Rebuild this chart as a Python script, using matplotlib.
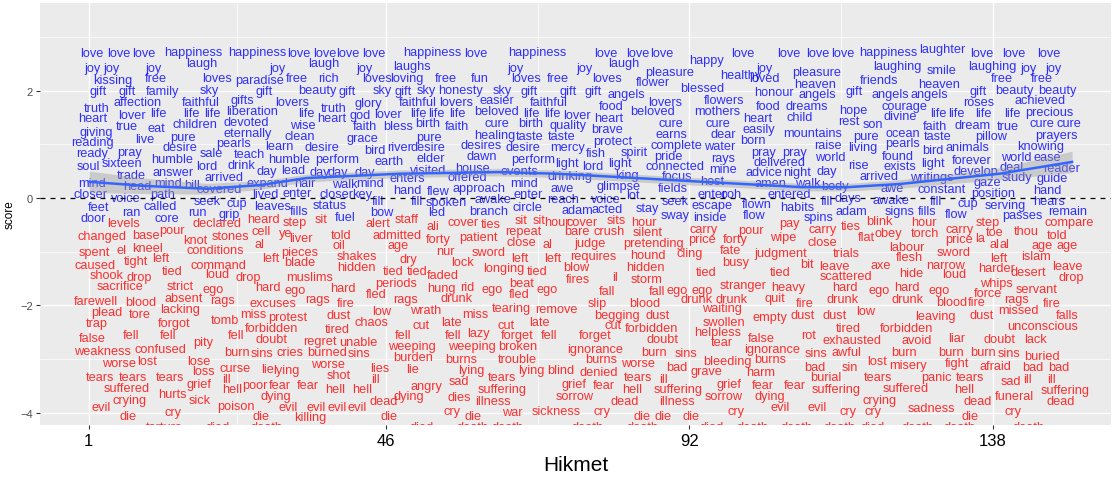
import matplotlib
matplotlib.use("Agg")
import matplotlib.pyplot as plt

plt.rcParams['font.family'] = ['Liberation Sans', 'DejaVu Sans']

# positive words (blue): word, poem index, score
pos_words = [
    "love", "love", "love", "happiness", "happiness", "love", "love", "love", "love", "happiness", "love", "happiness", "love", "love", "love", "happy", "love", "love", "love", "love", "happiness", "laughter", "love", "love", "love",
    "joy", "joy", "joy", "laugh", "joy", "laugh", "joy", "laughs", "joy", "joy", "laugh", "joy", "laughing", "smile", "laughing", "joy", "joy",
    "kissing", "free", "loves", "paradise", "free", "rich", "loves", "loving", "free", "fun", "loves", "free", "loves", "pleasure", "flower", "healthy", "loved", "pleasure", "heaven", "friends", "heaven", "free", "free",
    "gift", "gift", "family", "sky", "gift", "beauty", "gift", "sky", "gift", "sky", "honesty", "sky", "gift", "gift", "gift", "angels", "blessed", "honour", "angels", "gift", "angels", "angels", "gift", "beauty", "beauty",
    "affection", "faithful", "gifts", "lovers", "glory", "faithful", "lovers", "easier", "faithful", "lovers", "flowers", "roses", "achieved",
    "truth", "lover", "life", "life", "life", "liberation", "life", "truth", "heart", "god", "lover", "life", "life", "life", "beloved", "life", "life", "lover", "food", "beloved", "mothers", "food", "dreams", "heart", "heart", "heart", "child", "courage", "hope", "life", "life", "life", "life", "precious", "divine",
    "children", "devoted", "true", "wise", "faith", "bless", "birth", "faith", "cure", "birth", "quality", "cure", "cure", "rest", "son", "faith", "dream", "true", "cure", "cure",
    "eat", "giving", "live", "pure", "eternally", "clean", "brave", "easily", "earns", "dear", "mountains", "grace", "pure", "healing", "taste", "taste", "pure", "ocean", "taste", "pillow", "prayers",
    "reading", "desire", "pearls", "learn", "desire", "born", "protect", "complete", "water", "raise", "bird", "river", "desire", "desires", "desire", "mercy", "living", "pearls", "bird", "animals", "knowing",
    "ready", "pray", "sale", "teach", "humble", "humble", "perform", "earth", "elder", "dawn", "perform", "fish", "spirit", "pride", "rays", "pray", "pray", "world", "found", "world", "ease",
    "soul", "sixteen", "lord", "drink", "day", "lead", "answer", "light", "lord", "light", "connected", "mine", "delivered", "advice", "night", "day", "forever", "rise", "exists", "light", "develop", "deal", "reader", "day", "day", "day", "visited", "house", "events",
    "trade", "arrived", "drinking", "king", "focus", "host", "arrived", "writings", "study", "guide", "enters", "offered",
    "mind", "head", "mind", "bill", "covered", "expand", "hair", "walk", "mind", "hand", "flew", "approach", "mind", "awe", "glimpse", "fields", "amen", "walk", "body", "awe", "constant", "gaze", "position", "hand",
    "closer", "voice", "path", "lived", "enter", "closer", "key", "enter", "enter", "ooh", "entered",
    "seek", "fill", "fill", "spoken", "awake", "reach", "voice", "lot", "seek", "fill", "days", "awake", "fill", "cup", "serving", "hears",
    "feet", "called", "cup", "leaves", "status", "circle", "escape", "flown", "habits", "acted", "stay",
    "ran", "run", "grip", "fills", "bow", "led", "branch", "adam", "adam", "signs", "fills", "remain",
    "sway", "inside", "flow", "spins", "flow", "passes", "door", "core", "fuel",
]
pos_x = [
    1.5, 5.5, 9.3, 16.9, 26.6, 32.8, 36.8, 40.2, 44.2, 53.1, 59.6, 69.0, 79.3, 84.2, 87.9, 94.6, 100.1, 107.1, 111.4, 115.2, 122.1, 130.4, 136.3, 141.2, 146.5,
    1.5, 4.5, 10.8, 18.1, 29.6, 36.6, 42.7, 49.9, 65.7, 76.1, 82.1, 103.4, 123.5, 130.2, 137.9, 143.4, 147.1,
    4.6, 11.2, 20.4, 26.9, 32.5, 37.3, 44.6, 49.2, 55.1, 60.2, 67.2, 72.1, 79.6, 89.0, 86.5, 99.8, 103.4, 111.3, 111.1, 120.8, 129.8, 139.3, 145.5,
    2.4, 6.8, 12.2, 19.2, 27.5, 35.7, 40.1, 45.4, 48.7, 52.2, 57.4, 63.7, 67.8, 73.7, 77.5, 82.5, 93.9, 104.8, 111.4, 116.9, 122.5, 128.4, 135.7, 141.2, 147.8,
    8.4, 18.0, 24.3, 31.8, 43.3, 50.8, 56.6, 62.8, 70.7, 88.4, 97.2, 135.9, 145.2,
    2.2, 7.5, 11.6, 16.6, 19.8, 25.8, 34.0, 38.1, 37.8, 42.1, 46.3, 50.9, 53.7, 56.9, 62.8, 68.0, 71.3, 74.9, 80.2, 86.5, 96.3, 103.9, 109.8, 1.6, 79.8, 102.4, 108.7, 124.6, 116.9, 129.8, 132.5, 136.5, 140.9, 146.5, 124.0,
    17.1, 24.8, 6.8, 33.4, 42.8, 47.8, 52.4, 56.8, 62.8, 68.0, 73.6, 89.2, 96.3, 116.1, 119.8, 129.2, 134.9, 140.2, 145.5, 149.6,
    11.3, 2.2, 9.5, 15.2, 25.1, 33.0, 79.5, 102.5, 89.3, 97.1, 110.7, 42.5, 52.5, 62.5, 67.8, 72.7, 118.7, 124.3, 129.6, 137.7, 147.7,
    1.6, 14.8, 23.0, 29.9, 36.4, 101.6, 80.4, 90.1, 96.6, 113.0, 44.3, 48.1, 52.4, 60.5, 66.8, 73.6, 118.3, 124.3, 128.9, 134.2, 145.2,
    1.5, 7.1, 19.5, 25.4, 13.7, 31.3, 38.7, 46.5, 52.8, 60.5, 68.4, 77.8, 83.6, 88.9, 97.1, 103.3, 108.0, 113.3, 123.6, 141.6, 146.2,
    1.0, 6.0, 18.9, 24.2, 28.0, 31.9, 13.7, 73.4, 77.4, 81.5, 89.8, 97.1, 105.7, 103.3, 108.3, 112.8, 134.8, 117.7, 123.9, 128.9, 135.5, 140.8, 148.4, 36.0, 38.7, 42.8, 52.4, 59.2, 66.3,
    7.4, 21.5, 73.9, 82.5, 90.1, 95.5, 120.7, 128.7, 141.7, 147.0, 49.2, 58.3,
    1.5, 8.3, 13.0, 16.6, 20.8, 28.0, 33.7, 39.8, 43.6, 49.2, 54.0, 60.2, 66.9, 72.8, 81.3, 89.5, 104.3, 109.9, 114.0, 122.7, 130.2, 137.1, 138.0, 146.3,
    1.2, 6.6, 12.2, 27.8, 32.5, 38.6, 42.4, 67.5, 95.5, 98.4, 107.2,
    18.9, 44.8, 50.7, 55.2, 62.2, 72.8, 79.3, 83.4, 89.8, 112.8, 116.1, 122.5, 129.3, 134.2, 139.9, 146.5,
    2.5, 11.8, 23.4, 28.9, 37.5, 67.5, 95.4, 102.2, 108.4, 79.6, 85.7,
    7.5, 17.4, 22.2, 32.8, 45.4, 53.7, 61.6, 75.1, 116.6, 123.9, 128.1, 149.3,
    89.8, 95.1, 101.9, 111.6, 132.5, 142.4, 1.6, 12.8, 39.9,
]
pos_score = [
    2.70, 2.70, 2.70, 2.72, 2.72, 2.70, 2.70, 2.70, 2.70, 2.72, 2.70, 2.72, 2.70, 2.70, 2.70, 2.57, 2.70, 2.70, 2.70, 2.70, 2.72, 2.77, 2.70, 2.70, 2.70,
    2.42, 2.42, 2.42, 2.51, 2.42, 2.51, 2.42, 2.46, 2.42, 2.42, 2.51, 2.42, 2.46, 2.38, 2.46, 2.42, 2.42,
    2.20, 2.23, 2.23, 2.20, 2.23, 2.23, 2.23, 2.23, 2.23, 2.23, 2.23, 2.23, 2.23, 2.35, 2.16, 2.29, 2.23, 2.35, 2.12, 2.20, 2.12, 2.23, 2.23,
    1.99, 1.99, 1.99, 2.01, 1.99, 2.01, 1.99, 2.01, 1.99, 2.01, 2.01, 2.01, 1.99, 1.99, 1.99, 1.94, 2.05, 1.97, 1.94, 1.99, 1.94, 1.94, 1.99, 2.01, 2.01,
    1.79, 1.79, 1.82, 1.79, 1.77, 1.79, 1.79, 1.82, 1.79, 1.79, 1.82, 1.79, 1.82,
    1.68, 1.55, 1.58, 1.58, 1.58, 1.62, 1.58, 1.68, 1.49, 1.55, 1.56, 1.58, 1.58, 1.58, 1.62, 1.58, 1.58, 1.55, 1.71, 1.62, 1.62, 1.71, 1.71, 1.49, 1.49, 1.49, 1.51, 1.71, 1.64, 1.58, 1.58, 1.58, 1.58, 1.60, 1.53,
    1.38, 1.42, 1.34, 1.36, 1.34, 1.34, 1.40, 1.34, 1.40, 1.40, 1.36, 1.40, 1.40, 1.43, 1.38, 1.34, 1.36, 1.34, 1.40, 1.40,
    1.30, 1.23, 1.10, 1.14, 1.21, 1.15, 1.28, 1.28, 1.19, 1.19, 1.21, 1.12, 1.14, 1.17, 1.15, 1.15, 1.15, 1.21, 1.15, 1.15, 1.17,
    1.04, 0.95, 1.02, 0.97, 0.95, 1.08, 1.06, 0.99, 0.97, 0.99, 0.89, 0.95, 0.95, 0.99, 0.95, 0.95, 0.95, 1.02, 0.89, 0.95, 0.97,
    0.84, 0.86, 0.84, 0.82, 0.73, 0.73, 0.73, 0.69, 0.74, 0.78, 0.73, 0.84, 0.86, 0.78, 0.74, 0.86, 0.86, 0.76, 0.78, 0.76, 0.76,
    0.60, 0.65, 0.60, 0.61, 0.50, 0.52, 0.48, 0.65, 0.60, 0.65, 0.60, 0.54, 0.67, 0.48, 0.48, 0.50, 0.71, 0.61, 0.60, 0.65, 0.50, 0.58, 0.56, 0.48, 0.48, 0.48, 0.52, 0.56, 0.50,
    0.43, 0.39, 0.41, 0.43, 0.41, 0.32, 0.41, 0.39, 0.39, 0.37, 0.37, 0.39,
    0.28, 0.22, 0.28, 0.24, 0.17, 0.28, 0.28, 0.26, 0.28, 0.15, 0.13, 0.19, 0.28, 0.19, 0.22, 0.19, 0.28, 0.28, 0.22, 0.19, 0.17, 0.30, 0.09, 0.15,
    0.07, 0.00, 0.07, 0.07, 0.09, 0.07, 0.07, 0.07, 0.07, 0.07, 0.07,
    -0.06, -0.06, -0.06, -0.07, -0.02, -0.02, -0.02, 0.06, -0.06, -0.06, 0.00, -0.04, -0.06, -0.09, -0.13, -0.06,
    -0.17, -0.15, -0.09, -0.15, -0.13, -0.17, -0.13, -0.11, -0.17, -0.20, -0.19,
    -0.26, -0.26, -0.30, -0.24, -0.26, -0.26, -0.24, -0.22, -0.24, -0.24, -0.24, -0.24,
    -0.32, -0.35, -0.32, -0.35, -0.30, -0.32, -0.37, -0.37, -0.35,
]

# negative words (red)
neg_words = [
    "levels", "declared", "heard", "step", "sit", "alert", "staff", "ali", "cover", "ties", "sit", "sit", "hour", "cover", "sits", "hour", "pay", "ties", "blink", "hour", "step", "compare",
    "changed", "base", "pour", "knot", "stones", "cell", "ye", "liver", "told", "admitted", "forty", "patient", "repeat", "bare", "crush", "silent", "carry", "pour", "carry", "wipe", "price", "forty", "flat", "obey", "torch", "carry", "price", "la", "toe", "thou", "told",
    "al", "oil", "age", "close", "al", "judge", "pretending", "close", "al", "al", "age", "age",
    "spent", "el", "kneel", "conditions", "pieces", "nur", "sword", "cling", "fate", "judgment", "trials", "labour", "sword", "requires", "hound", "shakes", "dry", "left", "left", "left", "left", "flesh", "islam", "left",
    "caused", "tight", "command", "blade", "lock", "busy", "bit", "leave", "axe", "narrow", "leave", "harder", "hidden", "longing", "blow", "hidden",
    "shook", "drop", "tied", "loud", "drop", "muslims", "tied", "tied", "tied", "faded", "tied", "tied", "hide", "loud", "desert", "drop", "scattered", "fires", "il", "storm",
    "sacrifice", "strict", "ego", "hard", "ego", "periods", "hard", "hung", "rid", "ego", "beat", "ego", "stranger", "heavy", "hard", "whips", "fall", "fall", "ego", "ego", "ego", "hard", "ego", "servant", "force", "fled", "fled",
    "farewell", "blood", "absent", "rags", "excuses", "rags", "fire", "rags", "drunk", "drunk", "drunk", "quit", "fire", "drunk", "slip", "blood", "drunk", "blood", "fire", "rags", "fire",
    "plead", "tore", "lacking", "miss", "protest", "low", "wrath", "miss", "tearing", "remove", "dust", "waiting", "begging", "dust", "empty", "dust", "dust", "low", "leaving", "dust", "missed", "falls",
    "tomb", "trap", "forgot", "forbidden", "chaos", "cut", "late", "cut", "late", "tired", "cut", "forbidden", "swollen", "tired", "forbidden", "unconscious",
    "false", "fell", "fell", "pity", "fell", "doubt", "regret", "unable", "fell", "fell", "lazy", "forget", "fell", "forget", "doubt", "helpless", "tear", "false", "rot", "exhausted", "avoid", "liar", "doubt", "lack",
    "weakness", "confused", "burn", "sins", "cries", "burned", "sins", "weeping", "weeping", "broken", "burden", "ignorance", "burn", "sins", "ignorance", "sins", "awful", "burn", "burn", "burn", "sins", "buried",
    "worse", "lost", "lose", "loss", "curse", "lie", "lying", "worse", "lies", "lie", "burns", "trouble", "lying", "lying", "blind", "burns", "worse", "bleeding", "burns", "bad", "bad", "sin", "denied", "grave", "harm", "lost", "misery", "fight", "afraid", "bad", "bad",
    "tears", "tears", "tears", "grief", "ill", "poor", "fear", "fear", "suffered", "hurts", "hell", "shot", "ill", "tears", "angry", "sad", "suffering", "grief", "hell", "hell", "fear", "tears", "ill", "hell", "suffering", "grief", "fear", "fear", "burial", "suffering", "tears", "panic", "tears", "sad", "ill", "ill", "suffered", "hell", "suffering",
    "crying", "sick", "dying", "dying", "dies", "illness", "sorrow", "dead", "dead", "illness", "sorrow", "dying", "funeral", "crying", "dead", "dead",
    "evil", "poison", "evil", "evil", "evil", "evil", "cry", "cry", "war", "sickness", "cry", "cry", "evil", "evil", "cry", "cry", "sadness", "cry",
    "die", "die", "killing", "die", "die", "die", "die", "die", "die",
    "torture", "died", "death", "died", "death", "death", "death", "death", "died", "death", "death", "death", "died", "death", "death", "death",
]
neg_x = [
    6.2, 20.4, 27.5, 32.2, 36.2, 44.8, 49.2, 53.1, 57.7, 61.9, 66.5, 69.2, 71.9, 75.7, 81.0, 85.1, 107.2, 116.5, 120.8, 127.5, 137.2, 149.5,
    3.0, 9.6, 13.6, 17.1, 22.5, 27.1, 30.8, 33.1, 39.3, 47.7, 54.0, 60.1, 66.9, 74.9, 79.8, 85.7, 94.2, 101.3, 112.2, 106.3, 94.0, 99.0, 118.9, 122.1, 127.7, 133.0, 132.8, 136.0, 138.3, 143.1, 147.7,
    26.9, 38.9, 47.8, 66.6, 70.5, 76.9, 86.6, 112.1, 138.3, 139.8, 145.5, 149.2,
    1.8, 6.0, 9.9, 20.2, 33.0, 55.1, 61.6, 92.1, 98.3, 105.8, 115.8, 124.9, 132.1, 77.4, 85.7, 41.6, 49.5, 11.9, 28.6, 66.3, 71.3, 125.4, 144.5, 138.9,
    1.9, 8.1, 20.7, 33.0, 57.7, 99.0, 109.8, 114.0, 121.0, 130.9, 149.3, 138.6, 41.5, 63.9, 74.9, 85.4,
    3.7, 8.6, 13.6, 20.5, 25.2, 34.5, 47.1, 50.7, 68.9, 54.6, 94.6, 105.8, 125.7, 132.2, 143.3, 149.9, 115.8, 75.1, 80.7, 85.5,
    5.8, 14.9, 19.8, 28.1, 32.2, 47.5, 39.5, 54.5, 58.4, 62.1, 66.6, 70.5, 100.1, 106.9, 115.5, 138.6, 79.5, 87.1, 90.1, 94.0, 120.8, 124.9, 129.8, 144.6, 137.2, 44.6, 66.2,
    2.1, 8.9, 15.4, 21.3, 28.9, 35.7, 39.9, 49.0, 56.8, 93.1, 98.4, 104.9, 109.5, 115.2, 78.0, 85.2, 125.1, 131.8, 135.5, 141.6, 146.9,
    3.7, 8.7, 14.8, 26.0, 31.2, 45.4, 52.0, 59.5, 65.1, 71.9, 38.9, 96.9, 81.0, 87.2, 104.2, 109.2, 114.0, 118.7, 129.3, 136.3, 141.9, 149.3,
    21.6, 2.2, 14.0, 28.7, 43.9, 51.3, 55.9, 64.2, 69.3, 38.6, 80.5, 86.3, 97.2, 116.1, 124.9, 145.5,
    1.6, 7.4, 13.0, 18.3, 23.3, 28.7, 36.0, 41.9, 48.6, 56.2, 60.1, 65.9, 70.7, 77.7, 88.0, 96.3, 96.9, 102.9, 110.1, 116.6, 126.5, 132.5, 139.0, 144.5,
    3.1, 11.9, 23.4, 27.2, 31.5, 37.1, 41.9, 49.9, 59.0, 66.0, 50.1, 77.7, 86.6, 91.5, 104.5, 111.2, 115.8, 124.6, 131.6, 136.5, 140.5, 145.5,
    5.6, 9.8, 17.7, 18.3, 23.1, 28.1, 31.0, 37.2, 45.1, 50.1, 57.5, 66.0, 59.0, 68.1, 72.5, 78.6, 84.3, 97.7, 104.3, 90.1, 111.0, 116.3, 78.3, 94.6, 102.8, 120.4, 125.1, 132.5, 138.4, 144.0, 148.0,
    2.7, 7.7, 13.3, 17.7, 21.9, 26.1, 29.9, 34.2, 6.8, 13.7, 22.7, 38.9, 44.5, 63.6, 52.2, 57.1, 63.7, 74.6, 38.4, 42.4, 79.0, 84.2, 88.1, 83.4, 90.3, 98.0, 103.1, 108.0, 112.7, 114.3, 120.6, 129.5, 134.6, 140.7, 143.3, 146.8, 124.8, 133.6, 148.9,
    7.2, 17.8, 29.3, 49.5, 57.2, 62.2, 74.6, 45.7, 82.2, 90.1, 97.2, 104.2, 141.2, 120.8, 135.7, 148.3,
    2.8, 23.3, 31.2, 35.4, 38.6, 41.6, 13.7, 56.0, 65.2, 71.9, 78.7, 99.0, 105.7, 111.3, 116.0, 119.8, 128.7, 141.0,
    6.9, 27.1, 34.5, 46.5, 59.2, 84.9, 88.0, 92.2, 134.6,
    12.5, 20.5, 28.0, 51.5, 59.2, 64.5, 76.6, 84.9, 95.4, 101.6, 108.3, 114.8, 119.8, 126.6, 133.0, 143.4,
]
neg_score = [
    -0.47, -0.47, -0.39, -0.45, -0.39, -0.47, -0.39, -0.52, -0.45, -0.48, -0.41, -0.41, -0.45, -0.45, -0.41, -0.45, -0.47, -0.52, -0.43, -0.45, -0.45, -0.45,
    -0.71, -0.69, -0.60, -0.78, -0.71, -0.61, -0.65, -0.74, -0.69, -0.69, -0.76, -0.73, -0.61, -0.61, -0.61, -0.63, -0.58, -0.60, -0.58, -0.73, -0.76, -0.76, -0.73, -0.65, -0.65, -0.58, -0.76, -0.74, -0.63, -0.61, -0.69,
    -0.86, -0.88, -0.88, -0.82, -0.86, -0.84, -0.84, -0.82, -0.86, -0.86, -0.88, -0.88,
    -1.01, -0.97, -0.93, -0.97, -1.01, -0.99, -1.01, -1.02, -0.97, -1.02, -1.02, -0.91, -1.01, -1.08, -1.06, -1.08, -1.14, -1.12, -1.12, -1.12, -1.12, -1.10, -1.08, -1.12,
    -1.25, -1.17, -1.25, -1.19, -1.19, -1.19, -1.23, -1.27, -1.25, -1.25, -1.27, -1.30, -1.28, -1.30, -1.28, -1.28,
    -1.43, -1.47, -1.36, -1.42, -1.47, -1.47, -1.36, -1.36, -1.36, -1.43, -1.38, -1.38, -1.40, -1.42, -1.38, -1.47, -1.45, -1.51, -1.47, -1.51,
    -1.64, -1.64, -1.69, -1.66, -1.71, -1.58, -1.68, -1.68, -1.66, -1.69, -1.58, -1.69, -1.62, -1.66, -1.66, -1.58, -1.73, -1.73, -1.71, -1.71, -1.71, -1.66, -1.71, -1.69, -1.77, -1.79, -1.79,
    -1.92, -1.94, -1.86, -1.90, -1.96, -1.88, -1.96, -1.88, -1.86, -1.88, -1.88, -1.86, -1.96, -1.88, -1.96, -1.96, -1.88, -1.94, -1.94, -1.88, -1.96,
    -2.12, -2.16, -2.07, -2.16, -2.22, -2.10, -2.09, -2.16, -2.05, -2.07, -2.18, -2.05, -2.18, -2.18, -2.22, -2.18, -2.18, -2.10, -2.20, -2.18, -2.09, -2.18,
    -2.27, -2.33, -2.33, -2.42, -2.31, -2.36, -2.31, -2.36, -2.31, -2.44, -2.36, -2.42, -2.31, -2.42, -2.42, -2.38,
    -2.61, -2.55, -2.55, -2.68, -2.55, -2.63, -2.66, -2.68, -2.55, -2.55, -2.51, -2.55, -2.55, -2.55, -2.63, -2.50, -2.68, -2.61, -2.55, -2.64, -2.64, -2.61, -2.63, -2.63,
    -2.85, -2.81, -2.87, -2.89, -2.87, -2.87, -2.89, -2.76, -2.76, -2.76, -2.96, -2.81, -2.87, -2.89, -2.81, -2.89, -2.87, -2.87, -2.87, -2.87, -2.89, -2.94,
    -3.07, -3.04, -3.04, -3.22, -3.17, -3.18, -3.20, -3.09, -3.17, -3.18, -3.00, -3.00, -3.20, -3.20, -3.20, -3.00, -3.07, -3.04, -3.00, -3.15, -3.15, -3.15, -3.24, -3.22, -3.24, -3.04, -3.11, -3.07, -3.13, -3.15, -3.15,
    -3.33, -3.33, -3.33, -3.46, -3.37, -3.48, -3.48, -3.48, -3.54, -3.65, -3.56, -3.30, -3.37, -3.33, -3.50, -3.41, -3.56, -3.46, -3.56, -3.56, -3.48, -3.33, -3.37, -3.56, -3.56, -3.46, -3.48, -3.48, -3.33, -3.56, -3.33, -3.33, -3.33, -3.41, -3.37, -3.37, -3.54, -3.56, -3.58,
    -3.76, -3.76, -3.69, -3.69, -3.71, -3.78, -3.69, -3.78, -3.78, -3.78, -3.69, -3.69, -3.69, -3.76, -3.78, -3.78,
    -3.89, -3.87, -3.89, -3.89, -3.89, -3.89, -3.99, -3.97, -3.99, -3.97, -3.97, -3.97, -3.89, -3.89, -3.97, -3.97, -3.91, -3.97,
    -4.06, -4.06, -4.08, -4.06, -4.06, -4.06, -4.06, -4.06, -4.06,
    -4.27, -4.27, -4.27, -4.27, -4.27, -4.27, -4.27, -4.27, -4.27, -4.27, -4.27, -4.27, -4.27, -4.27, -4.27, -4.27,
]

# loess trend, with its confidence half-width
trend_x = [1, 10, 19, 27, 34, 48, 63, 72, 81, 94, 109, 116, 124, 131, 139, 150]
trend_y = [0.30, 0.22, 0.17, 0.24, 0.37, 0.45, 0.48, 0.45, 0.39, 0.30, 0.20, 0.20, 0.26, 0.35, 0.45, 0.67]
trend_se = [0.20, 0.14, 0.10, 0.08, 0.07, 0.07, 0.07, 0.07, 0.07, 0.07, 0.07, 0.07, 0.08, 0.09, 0.11, 0.20]

x_ticks = [1, 46, 92, 138]
y_ticks = [-4, -2, 0, 2]

fig = plt.figure(figsize=(11.13, 4.81), dpi=100)
ax = fig.add_axes([0.0359, 0.1143, 0.9623, 0.8774])
ax.set_facecolor('#EBEBEB')
for s in ax.spines.values():
    s.set_visible(False)

ax.set_xlim(-6.4, 155.9)
ax.set_ylim(-4.23, 3.63)
ax.set_xticks(x_ticks)
ax.set_xticklabels([str(t) for t in x_ticks])
ax.set_xticks([23.5, 69, 115], minor=True)
ax.set_yticks(y_ticks)
ax.set_yticks([-3, -1, 1, 3], minor=True)
ax.grid(which='major', color='white', lw=1.0)
ax.grid(which='minor', color='white', lw=0.5)
ax.set_axisbelow(True)
ax.tick_params(which='minor', length=0)
ax.tick_params(which='major', length=3, color='#333333')
ax.tick_params(axis='x', labelsize=12, labelcolor='black', pad=3)
ax.tick_params(axis='y', labelsize=8, labelcolor='#4D4D4D', pad=2)

for w, x, y in zip(pos_words, pos_x, pos_score, strict=True):
    ax.text(x, y, w, color='blue', alpha=0.8, fontsize=9.2, ha='center', va='center', clip_on=True, zorder=2)
for w, x, y in zip(neg_words, neg_x, neg_score, strict=True):
    ax.text(x, y, w, color='red', alpha=0.8, fontsize=9.2, ha='center', va='center', clip_on=True, zorder=2)

lo = [m - s for m, s in zip(trend_y, trend_se)]
hi = [m + s for m, s in zip(trend_y, trend_se)]
ax.fill_between(trend_x, lo, hi, color='#999999', alpha=0.4, lw=0, zorder=3)
ax.plot(trend_x, trend_y, color='#3366FF', lw=1.8, zorder=4)
ax.axhline(0, color='black', ls=(0, (4, 4)), lw=0.9, zorder=5)

ax.set_xlabel('Hikmet', fontsize=15, labelpad=5)
ax.set_ylabel('score', fontsize=8.5, labelpad=3)

fig.savefig('out.png', dpi=100)
